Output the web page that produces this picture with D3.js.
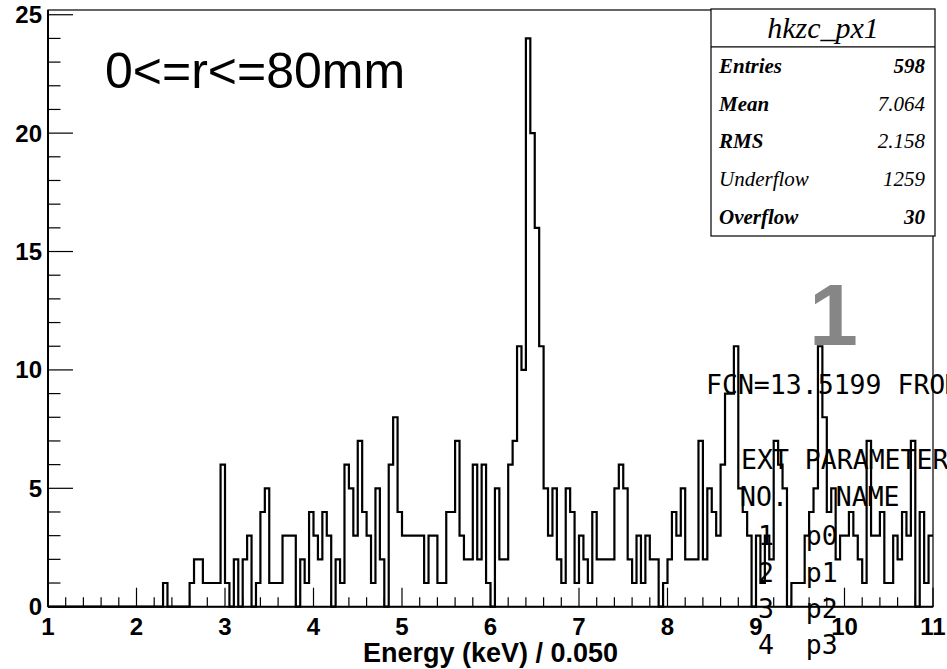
<!DOCTYPE html>
<html><head><meta charset="utf-8">
<script src="https://cdn.jsdelivr.net/npm/d3@7"></script>
<style>body{margin:0;background:#fff}text{white-space:pre}</style>
</head><body><svg id="c" width="947" height="669"></svg>
<script>
// ---------------- data ----------------
const xStart = 1;
const binWidth = 0.05;
const counts = [
  0,0,0,0,0,0,0,0,0,0,
  0,0,0,0,0,0,0,0,0,0,
  0,0,0,0,0,0,1,0,0,0,
  0,0,1,2,2,1,1,1,1,6,
  1,0,2,0,2,3,0,1,4,5,
  1,1,1,3,3,3,0,2,1,4,
  3,2,4,3,0,2,1,6,5,3,
  7,4,3,1,5,2,0,6,8,4,
  3,3,3,3,3,1,3,3,1,1,
  4,4,7,3,2,2,6,2,6,1,
  0,5,2,2,6,7,11,10,24,20,
  16,11,5,3,5,2,1,5,4,1,
  3,2,1,4,2,2,2,2,5,6,
  5,2,1,3,1,3,2,2,0,1,
  2,4,3,5,2,2,2,7,2,5,
  4,3,6,9,9,11,5,4,3,0,
  3,1,3,2,7,6,5,0,1,1,
  1,3,4,5,11,8,4,5,2,3,
  3,4,3,2,1,7,3,3,4,1,
  1,3,2,4,3,7,0,4,1,3
];
const xTickLabels = [1,2,3,4,5,6,7,8,9,10,11];
const yTickLabels = [0,5,10,15,20,25];
const xTitle = "Energy (keV) / 0.050";
const rangeLabel = "0<=r<=80mm";
const padNumber = "1";
const statTitle = "hkzc_px1";
const statLabels = ["Entries","Mean","RMS","Underflow","Overflow"];
const statValues = ["598","7.064","2.158","1259","30"];
const minuitLines = ["FCN=13.5199 FROM MIGRAD","EXT PARAMETER","NO.   NAME","1  p0","2  p1","3  p2","4  p3"];

// ---------------- layout ----------------
const W = 947, H = 669;
const svg = d3.select("#c");
svg.append("rect").attr("width", W).attr("height", H).attr("fill", "#fff");

const x = d3.scaleLinear().domain([1, 11]).range([48, 933]);
const y = d3.scaleLinear().domain([0, 25.2]).range([606.7, 10]);

// histogram outline
const pts = counts.map((c, i) => [xStart + i * binWidth, c]);
pts.push([xStart + counts.length * binWidth, counts[counts.length - 1]]);
const line = d3.line().x(d => x(d[0])).y(d => y(d[1])).curve(d3.curveStepAfter);
svg.append("path").attr("d", line(pts)).attr("fill", "none")
  .attr("stroke", "#000").attr("stroke-width", 2.2).attr("stroke-linejoin", "miter");

// frame
svg.append("rect").attr("x", x(1)).attr("y", y(25.2))
  .attr("width", x(11) - x(1)).attr("height", y(0) - y(25.2))
  .attr("fill", "none").attr("stroke", "#000").attr("stroke-width", 1.2);

// axes lines
svg.append("line").attr("x1", x(1)).attr("x2", x(1)).attr("y1", y(0)).attr("y2", y(25.2))
  .attr("stroke", "#000").attr("stroke-width", 2);
svg.append("line").attr("x1", x(1)).attr("x2", x(11)).attr("y1", y(0)).attr("y2", y(0))
  .attr("stroke", "#000").attr("stroke-width", 2);

// x ticks (every 0.2, major at integers)
const gx = svg.append("g");
d3.range(0, 51).forEach(i => {
  const v = xStart + i * 0.2;
  const major = i % 5 === 0;
  gx.append("line").attr("x1", x(v)).attr("x2", x(v))
    .attr("y1", y(0)).attr("y2", y(0) - (major ? 19 : 9.5))
    .attr("stroke", "#000").attr("stroke-width", 1.2);
});
xTickLabels.forEach(v => {
  gx.append("text").attr("x", x(v)).attr("y", 635).attr("text-anchor", "middle")
    .attr("font-family", "Liberation Sans, Arial, sans-serif").attr("font-weight", "bold")
    .attr("font-size", 24).text(v);
});

// y ticks (every 1, major every 5)
const gy = svg.append("g");
d3.range(0, 26).forEach(v => {
  const major = v % 5 === 0;
  gy.append("line").attr("x1", x(1)).attr("x2", x(1) + (major ? 25 : 12.5))
    .attr("y1", y(v)).attr("y2", y(v))
    .attr("stroke", "#000").attr("stroke-width", 1.2);
});
yTickLabels.forEach(v => {
  gy.append("text").attr("x", 42).attr("y", y(v) + 8.5).attr("text-anchor", "end")
    .attr("font-family", "Liberation Sans, Arial, sans-serif").attr("font-weight", "bold")
    .attr("font-size", 24).text(v);
});

// x title
svg.append("text").attr("x", (x(1) + x(11)) / 2).attr("y", 662).attr("text-anchor", "middle")
  .attr("font-family", "Liberation Sans, Arial, sans-serif").attr("font-weight", "bold")
  .attr("font-size", 27).text(xTitle);

// range label
svg.append("text").attr("x", 105).attr("y", 88)
  .attr("font-family", "Liberation Sans, Arial, sans-serif")
  .attr("font-size", 50).text(rangeLabel);

// stat box
const bx0 = 711, bx1 = 935, by0 = 9, by1 = 236;
const rowH = (by1 - by0) / 6;
svg.append("rect").attr("x", bx0).attr("y", by0).attr("width", bx1 - bx0).attr("height", by1 - by0)
  .attr("fill", "#fff").attr("stroke", "#000").attr("stroke-width", 1.2);
svg.append("line").attr("x1", bx0).attr("x2", bx1).attr("y1", by0 + rowH).attr("y2", by0 + rowH)
  .attr("stroke", "#000").attr("stroke-width", 1.2);
svg.append("text").attr("x", (bx0 + bx1) / 2).attr("y", by0 + rowH / 2 + 10).attr("text-anchor", "middle")
  .attr("font-family", "Liberation Serif, Times New Roman, serif").attr("font-style", "italic")
  .attr("font-size", 30).text(statTitle);
const boldRow = [true, true, true, false, true];
const boldVal = [true, false, false, false, true];
statLabels.forEach((lab, i) => {
  const cy = by0 + rowH * (i + 1.5);
  svg.append("text").attr("x", bx0 + 8).attr("y", cy + 7)
    .attr("font-family", "Liberation Serif, Times New Roman, serif").attr("font-style", "italic")
    .attr("font-weight", boldRow[i] ? "bold" : "normal")
    .attr("font-size", 21).text(lab);
  svg.append("text").attr("x", bx1 - 10).attr("y", cy + 7).attr("text-anchor", "end")
    .attr("font-family", "Liberation Serif, Times New Roman, serif").attr("font-style", "italic")
    .attr("font-weight", boldVal[i] ? "bold" : "normal")
    .attr("font-size", 21).text(statValues[i]);
});

// pad number
svg.append("text").attr("x", 809).attr("y", 345)
  .attr("font-family", "Liberation Sans, Arial, sans-serif").attr("font-weight", "bold")
  .attr("font-size", 88).attr("fill", "#868686").text(padNumber);

// minuit printout
const mX = [706, 741, 740, 758, 758, 758, 758];
const mY = [394, 469, 506, 545, 582, 618, 654];
minuitLines.forEach((t, i) => {
  svg.append("text").attr("x", mX[i]).attr("y", mY[i])
    .attr("font-family", "DejaVu Sans Mono, monospace").attr("font-size", 26.5)
    .attr("fill", "#000").text(t);
});
</script></body></html>
